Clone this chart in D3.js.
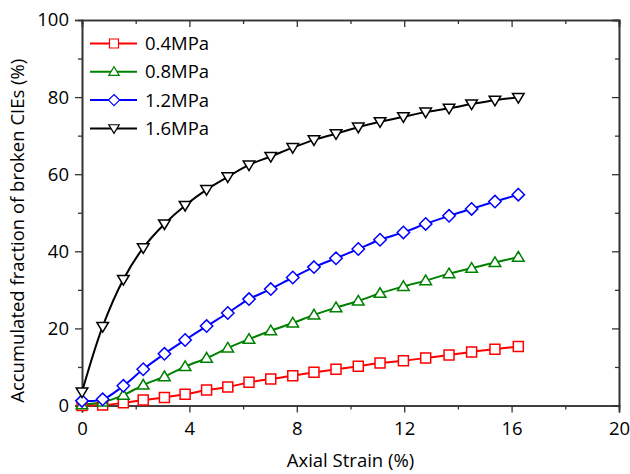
<!DOCTYPE html>
<html>
<head>
<meta charset="utf-8">
<script src="https://cdn.jsdelivr.net/npm/d3@7"></script>
<style>
  html, body { margin: 0; padding: 0; background: #fff; }
  svg { display: block; }
  text { font-family: "Open Sans", "Noto Sans", sans-serif; fill: #000; }
</style>
</head>
<body>
<svg id="chart" width="630" height="474"></svg>
<script>
// ---- data ----
const strain = [0, 0.77, 1.54, 2.28, 3.07, 3.84, 4.64, 5.43, 6.22, 7.03, 7.85, 8.64, 9.46, 10.29, 11.10, 11.97, 12.80, 13.67, 14.51, 15.38, 16.25];
const p04 = [0, 0.1, 0.7, 1.4, 2.1, 2.9, 4.0, 4.8, 6.0, 6.9, 7.7, 8.6, 9.4, 10.2, 11.0, 11.6, 12.3, 13.1, 13.9, 14.6, 15.3];
const p08 = [0.2, 0.9, 2.7, 5.3, 7.5, 10.1, 12.3, 14.9, 17.2, 19.4, 21.4, 23.5, 25.4, 27.1, 29.1, 30.9, 32.4, 34.2, 35.6, 37.1, 38.5];
const p12 = [1.2, 1.6, 5.1, 9.4, 13.4, 17.0, 20.6, 24.0, 27.6, 30.2, 33.2, 35.9, 38.2, 40.6, 43.0, 44.9, 47.1, 49.2, 51.0, 52.9, 54.7];
const p16 = [3.5, 20.5, 32.7, 40.9, 47.1, 51.9, 56.0, 59.3, 62.4, 64.6, 66.9, 68.9, 70.5, 72.2, 73.6, 74.9, 76.1, 77.1, 78.2, 79.2, 79.9];
const seriesNames = ["0.4MPa", "0.8MPa", "1.2MPa", "1.6MPa"];
const seriesColors = ["#ff0000", "#008000", "#0000ff", "#000000"];
const seriesSymbols = ["square", "triangleUp", "diamond", "triangleDown"];
const xTicks = [0, 4, 8, 12, 16, 20];
const yTicks = [0, 20, 40, 60, 80, 100];
const xTitle = "Axial Strain (%)";
const yTitle = "Accumulated fraction of broken CIEs (%)";

const series = [p04, p08, p12, p16].map((vals, i) => ({
  name: seriesNames[i], color: seriesColors[i], symbol: seriesSymbols[i],
  points: vals.map((v, j) => ({ x: strain[j], y: v }))
}));

const svg = d3.select("#chart");
const m = { left: 82, right: 619, top: 20, bottom: 405.5 };
const x = d3.scaleLinear().domain([0, 20]).range([m.left, m.right]);
const y = d3.scaleLinear().domain([0, 100]).range([m.bottom, m.top]);
const axisColor = "#333";
const fontSize = 18.5;

function symbolPath(type, size) {
  const s = size;
  if (type === "square") return `M${-s/2},${-s/2}h${s}v${s}h${-s}Z`;
  if (type === "diamond") { const d = s*0.62; return `M0,${-d}L${d},0L0,${d}L${-d},0Z`; }
  if (type === "triangleUp") { const h = s*0.9; return `M0,${-h*0.62}L${s*0.58},${h*0.45}L${-s*0.58},${h*0.45}Z`; }
  if (type === "triangleDown") { const h = s*0.9; return `M0,${h*0.62}L${s*0.58},${-h*0.45}L${-s*0.58},${-h*0.45}Z`; }
}

// axes
const axB = d3.axisBottom(x).tickValues(xTicks).tickSize(7).tickPadding(9);
svg.append("g").attr("transform", `translate(0,${m.bottom})`).call(axB);
const axL = d3.axisLeft(y).tickValues(yTicks).tickSize(7).tickPadding(6);
svg.append("g").attr("transform", `translate(${m.left},0)`).call(axL);
const axT = d3.axisTop(x).tickValues(xTicks).tickSize(-7).tickFormat("");
svg.append("g").attr("transform", `translate(0,${m.top})`).call(axT);
const axR = d3.axisRight(y).tickValues(yTicks).tickSize(-7).tickFormat("");
svg.append("g").attr("transform", `translate(${m.right},0)`).call(axR);

// minor ticks
const xMinor = [2, 6, 10, 14, 18];
const yMinor = [10, 30, 50, 70, 90];
svg.append("g").attr("transform", `translate(0,${m.bottom})`).call(d3.axisBottom(x).tickValues(xMinor).tickSize(4).tickFormat(""));
svg.append("g").attr("transform", `translate(0,${m.top})`).call(d3.axisTop(x).tickValues(xMinor).tickSize(-4).tickFormat(""));
svg.append("g").attr("transform", `translate(${m.left},0)`).call(d3.axisLeft(y).tickValues(yMinor).tickSize(4).tickFormat(""));
svg.append("g").attr("transform", `translate(${m.right},0)`).call(d3.axisRight(y).tickValues(yMinor).tickSize(-4).tickFormat(""));

svg.selectAll(".domain").attr("stroke", axisColor).attr("stroke-width", 1.6);
svg.selectAll(".tick line").attr("stroke", axisColor).attr("stroke-width", 1.3);
svg.selectAll(".tick text").attr("font-size", fontSize).attr("font-family", "Open Sans").attr("fill", "#000");

// titles
svg.append("text").attr("x", x(10)).attr("y", 467).attr("text-anchor", "middle")
  .attr("font-size", fontSize).text(xTitle);
svg.append("text").attr("transform", `translate(24,${(m.top + m.bottom)/2 + 18}) rotate(-90)`)
  .attr("text-anchor", "middle").attr("font-size", fontSize).text(yTitle);

// lines + markers
const line = d3.line().x(d => x(d.x)).y(d => y(d.y)).curve(d3.curveCatmullRom.alpha(0.5));
const plot = svg.append("g");
series.forEach(s => {
  plot.append("path").attr("d", line(s.points)).attr("fill", "none")
    .attr("stroke", s.color).attr("stroke-width", 2);
});
series.forEach(s => {
  plot.selectAll(null).data(s.points).enter().append("path")
    .attr("transform", d => `translate(${x(d.x)},${y(d.y)})`)
    .attr("d", symbolPath(s.symbol, 10))
    .attr("fill", "#fff").attr("stroke", s.color).attr("stroke-width", 1.5);
});

// legend
const leg = svg.append("g");
series.forEach((s, i) => {
  const cy = 43.5 + i * 28.3;
  leg.append("line").attr("x1", 90).attr("x2", 137).attr("y1", cy).attr("y2", cy)
    .attr("stroke", s.color).attr("stroke-width", 2);
  leg.append("path").attr("transform", `translate(114,${cy})`).attr("d", symbolPath(s.symbol, 9))
    .attr("fill", "#fff").attr("stroke", s.color).attr("stroke-width", 1.2);
  leg.append("text").attr("x", 145).attr("y", cy + 6.5).attr("font-size", fontSize).text(s.name);
});
</script>
</body>
</html>
